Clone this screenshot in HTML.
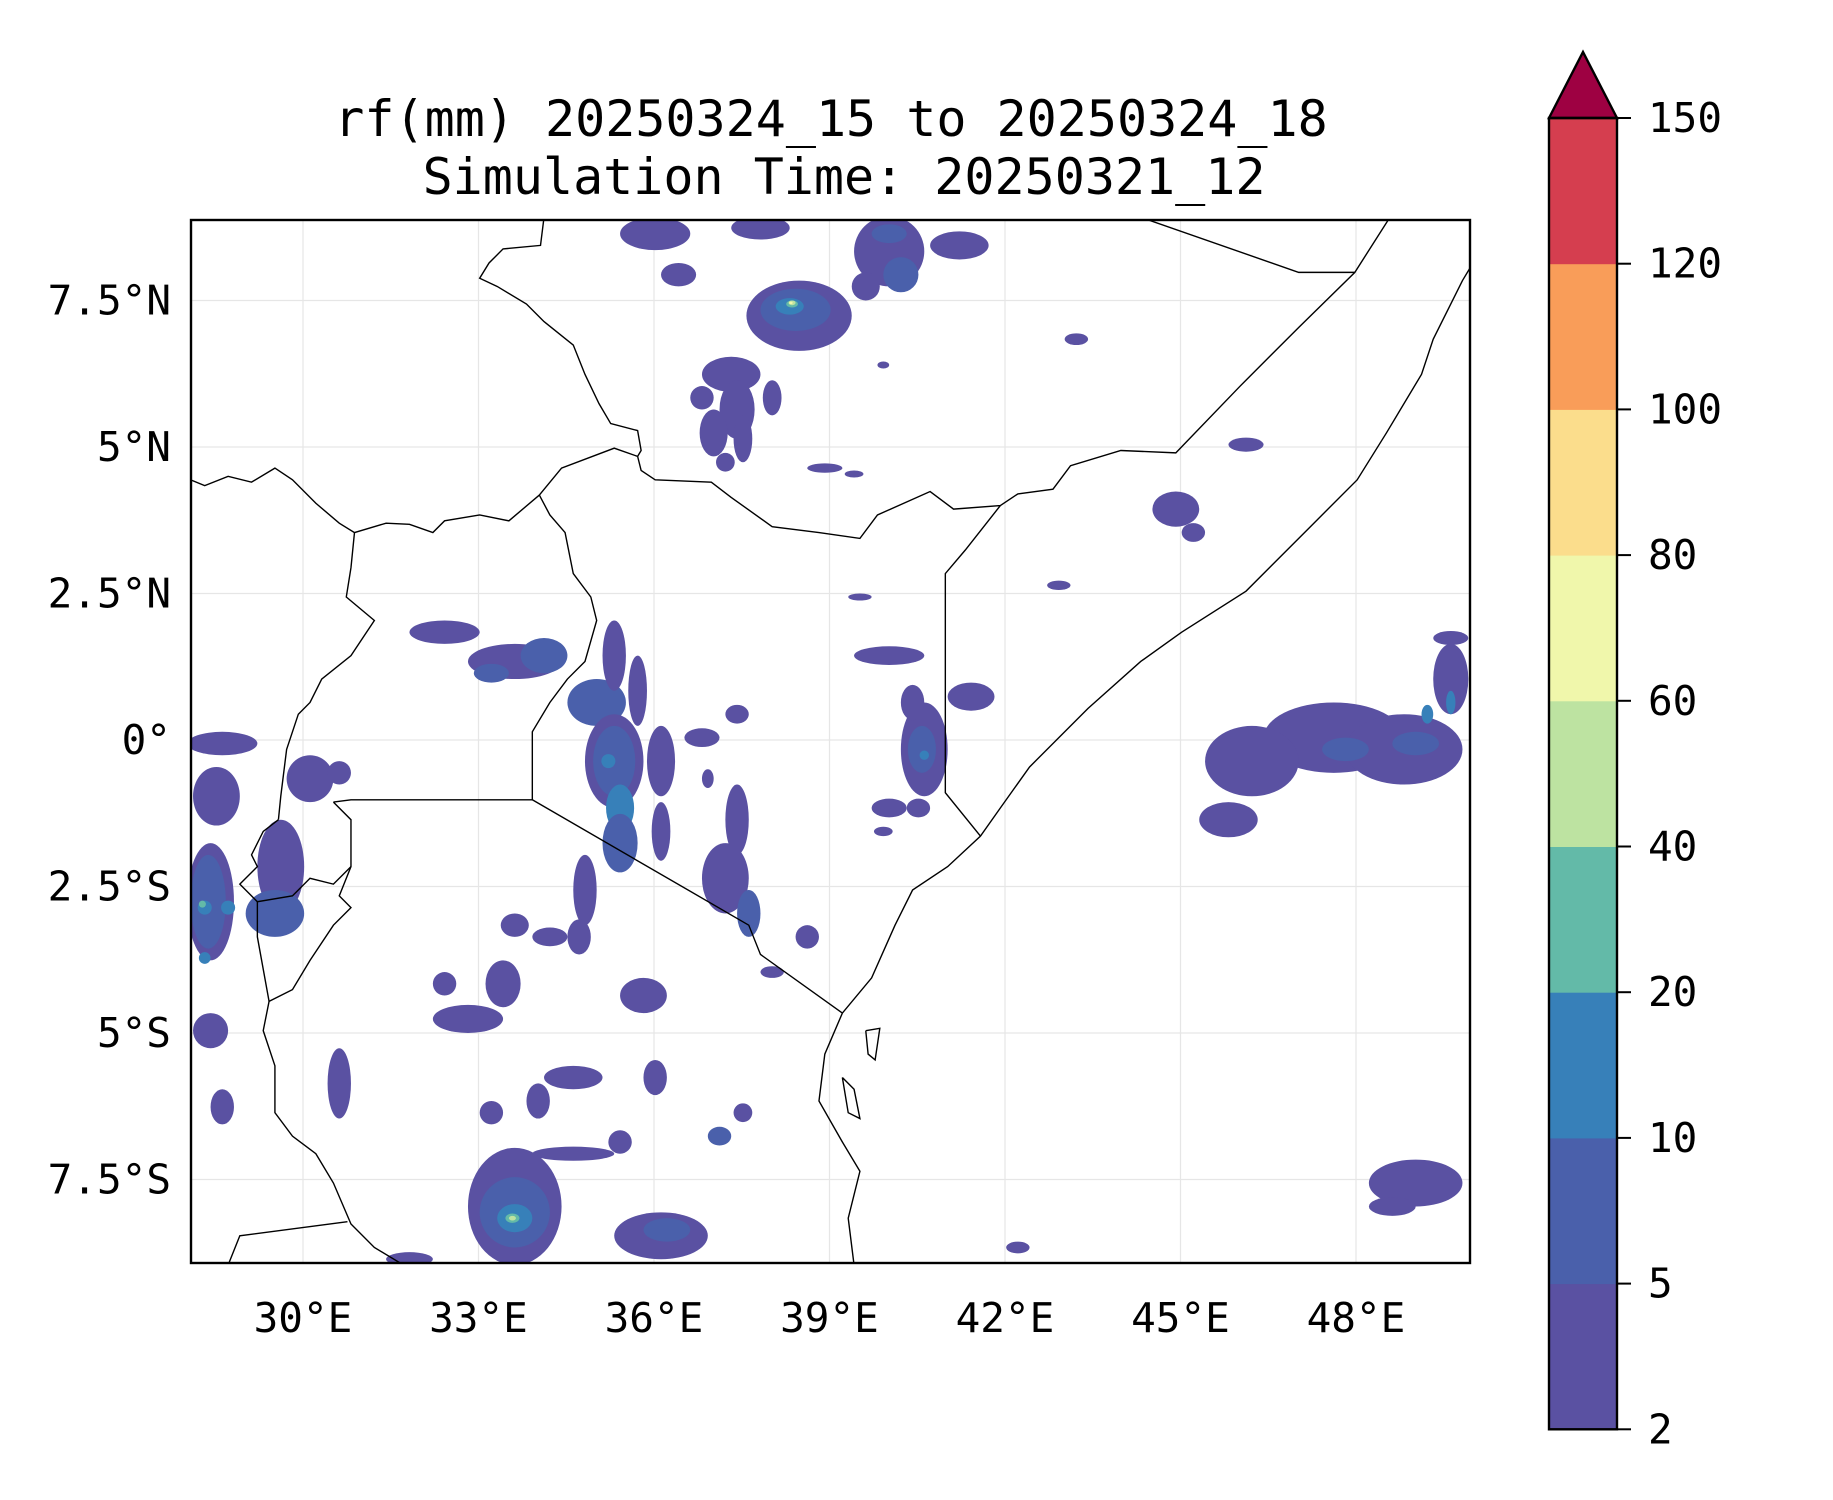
<!DOCTYPE html>
<html><head><meta charset="utf-8">
<style>
html,body{margin:0;padding:0;background:#fff;}
svg{display:block;font-family:"DejaVu Sans Mono","Liberation Mono",monospace;}
</style></head>
<body>
<svg id="chart" width="1833" height="1500" viewBox="0 0 1833 1500" xmlns="http://www.w3.org/2000/svg">
<rect width="1833" height="1500" fill="#fff"/>
<text x="831" y="136" font-size="50" text-anchor="middle">rf(mm) 20250324_15 to 20250324_18</text>
<text x="844" y="194" font-size="50" text-anchor="middle">Simulation Time: 20250321_12</text>
<defs><clipPath id="mapclip"><rect x="191" y="220" width="1279" height="1043"/></clipPath></defs>
<g id="grid"></g>
<g id="rain" clip-path="url(#mapclip)"></g>
<g id="borders" clip-path="url(#mapclip)" fill="none" stroke="#000" stroke-width="1.4"></g>
<rect x="191" y="220" width="1279" height="1043" fill="none" stroke="#000" stroke-width="2.4"/>
<g id="xticks"></g>
<g id="yticks"></g>
<g id="cbar"></g>
</svg>
<script>
const NS="http://www.w3.org/2000/svg";
// ---- data ----
const levels=[2,5,10,20,40,60,80,100,120,150];
const levelColors=["#5a51a2","#4a60ab","#3780b9","#63baa8","#bde3a1","#f0f7ab","#fbdd8c","#f99d59","#d53e4f"];
const extendColor="#9e0142";
const lonTicks=[30,33,36,39,42,45,48];
const lonTickLabels=["30°E","33°E","36°E","39°E","42°E","45°E","48°E"];
const latTicks=[7.5,5,2.5,0,-2.5,-5,-7.5];
const latTickLabels=["7.5°N","5°N","2.5°N","0°","2.5°S","5°S","7.5°S"];
const blobLon=[38.48,38.42,38.32,38.36,38.36,38.34,36.02,37.82,40.02,41.22,36.42,39.62,40.22,40.02,37.32,37.42,37.02,37.52,38.02,36.82,37.22,38.92,39.42,44.92,45.22,46.12,42.92,43.22,39.92,32.42,33.62,33.22,34.12,35.02,35.32,35.32,35.42,35.42,35.32,35.72,36.12,36.12,35.22,34.82,34.72,34.22,37.22,37.62,37.42,38.62,38.02,36.82,37.42,36.92,40.62,40.58,40.62,41.42,40.02,40.42,40.02,40.52,39.92,39.52,47.62,48.82,49.62,49.62,46.22,45.82,49.02,49.22,49.62,47.82,28.62,28.52,28.42,28.38,28.32,28.28,28.32,29.62,29.52,30.12,30.62,28.42,28.62,28.72,30.62,32.82,33.42,32.42,33.62,34.62,34.02,35.82,36.02,35.42,37.12,37.52,33.22,34.62,33.62,33.62,33.62,33.58,33.58,36.12,36.22,31.82,49.02,48.62,42.22];
const blobLat=[7.24,7.34,7.4,7.44,7.46,7.46,8.64,8.74,8.34,8.44,7.94,7.74,7.94,8.64,6.24,5.64,5.24,5.14,5.84,5.84,4.74,4.64,4.54,3.94,3.54,5.04,2.64,6.84,6.4,1.84,1.34,1.14,1.44,0.64,-0.36,-0.36,-1.16,-1.76,1.44,0.84,-0.36,-1.56,-0.36,-2.56,-3.36,-3.36,-2.36,-2.96,-1.36,-3.36,-3.96,0.04,0.44,-0.66,-0.16,-0.16,-0.26,0.74,1.44,0.64,-1.16,-1.16,-1.56,2.44,0.04,-0.16,1.04,1.74,-0.36,-1.36,-0.06,0.44,0.64,-0.16,-0.06,-0.96,-2.76,-2.76,-2.86,-2.8,-3.72,-2.16,-2.96,-0.66,-0.56,-4.96,-6.26,-2.86,-5.86,-4.76,-4.16,-4.16,-3.16,-5.76,-6.16,-4.36,-5.76,-6.86,-6.76,-6.36,-6.36,-7.06,-7.96,-8.06,-8.16,-8.16,-8.16,-8.46,-8.36,-8.86,-7.56,-7.96,-8.66];
const blobW=[.9,.6,.24,.1,.06,.03,.6,.5,.6,.5,.3,.24,.3,.3,.5,.3,.24,.16,.16,.2,.16,.3,.16,.4,.2,.3,.2,.2,.1,.6,.8,.3,.4,.5,.5,.36,.24,.3,.2,.16,.24,.16,.12,.2,.2,.3,.4,.2,.2,.2,.2,.3,.2,.1,.4,.24,.08,.4,.6,.2,.3,.2,.16,.2,1.2,1.0,.3,.3,.8,.5,.4,.1,.08,.4,.6,.4,.4,.3,.12,.06,.1,.4,.5,.4,.2,.3,.2,.12,.2,.6,.3,.2,.24,.5,.2,.4,.2,.2,.2,.16,.2,.7,.8,.6,.3,.12,.06,.8,.4,.4,.8,.4,.2];
const blobH=[.6,.36,.14,.06,.04,.02,.28,.2,.6,.24,.2,.24,.3,.16,.3,.5,.4,.4,.3,.2,.16,.08,.06,.3,.16,.12,.08,.1,.06,.2,.3,.16,.3,.4,.8,.6,.4,.5,.6,.6,.6,.5,.12,.6,.3,.16,.6,.4,.6,.2,.1,.16,.16,.16,.8,.4,.08,.24,.16,.3,.16,.16,.08,.06,.6,.6,.6,.12,.6,.3,.2,.16,.2,.2,.2,.5,1.0,.8,.12,.06,.1,.8,.4,.4,.2,.3,.3,.12,.6,.24,.4,.2,.2,.2,.3,.3,.3,.2,.16,.16,.2,.12,1.0,.6,.24,.08,.04,.4,.2,.12,.4,.16,.1];
const blobVal=[3,7,15,30,50,70,3,3,3,3,3,3,7,7,3,3,3,3,3,3,3,3,3,3,3,3,3,3,3,3,3,7,7,7,3,7,15,7,3,3,3,3,15,3,3,3,3,7,3,3,3,3,3,3,3,7,15,3,3,3,3,3,3,3,3,3,3,3,3,3,7,15,15,7,3,3,3,7,15,30,15,3,7,3,3,3,3,15,3,3,3,3,3,3,3,3,3,3,7,3,3,3,3,7,15,30,50,3,7,3,3,3,3];
// ---- basemap (lon,lat) ----
const borders=[
[[34.04,4.18],[34.42,4.64],[35.32,4.98],[35.72,4.84],[35.78,4.6],[36.02,4.44],[36.98,4.4],[37.32,4.14],[38.02,3.64],[38.82,3.54],[39.52,3.44],[39.82,3.84],[40.72,4.24],[41.12,3.94],[41.92,4.0],[42.22,4.2],[42.82,4.28],[43.12,4.68],[43.98,4.94],[44.92,4.9],[46.02,6.04],[47.02,7.04],[47.98,7.98],[48.58,8.92]],
[[44.32,8.92],[47.02,7.98],[47.98,7.98]],
[[41.92,4.0],[41.32,3.24],[40.98,2.84],[40.98,-0.9],[41.58,-1.64]],
[[49.94,8.04],[49.82,7.84],[49.32,6.84],[49.12,6.24],[48.52,5.24],[48.02,4.44],[47.22,3.64],[46.12,2.54],[45.02,1.84],[44.32,1.34],[43.42,0.54],[42.42,-0.46],[41.92,-1.16],[41.58,-1.64],[41.02,-2.16],[40.42,-2.56],[40.12,-3.16],[39.72,-4.06],[39.22,-4.66],[38.92,-5.36],[38.82,-6.16],[39.22,-6.86],[39.52,-7.36],[39.32,-8.16],[39.42,-8.96]],
[[34.12,8.92],[34.06,8.44],[33.42,8.38],[33.18,8.14],[33.02,7.88],[33.32,7.74],[33.82,7.44],[34.12,7.14],[34.62,6.74],[34.82,6.24],[35.06,5.74],[35.26,5.4],[35.72,5.28],[35.78,4.94],[35.72,4.84]],
[[28.08,4.44],[28.32,4.34],[28.72,4.5],[29.12,4.4],[29.52,4.64],[29.82,4.44],[30.22,4.04],[30.62,3.7],[30.88,3.54],[31.42,3.7],[31.82,3.68],[32.22,3.54],[32.42,3.74],[33.02,3.84],[33.52,3.74],[34.04,4.18]],
[[30.88,3.54],[30.82,2.94],[30.74,2.44],[31.22,2.04],[30.82,1.44],[30.32,1.04],[30.12,0.64],[29.92,0.44],[29.72,-0.16],[29.62,-0.96],[29.58,-1.36]],
[[34.04,4.18],[34.22,3.84],[34.48,3.54],[34.62,2.84],[34.92,2.44],[35.02,2.04],[34.82,1.34],[34.52,1.04],[34.22,0.64],[33.92,0.14],[33.92,-1.02],[30.82,-1.02],[30.52,-1.06]],
[[33.92,-1.02],[37.62,-3.16],[37.82,-3.66],[39.22,-4.66]],
[[30.52,-1.06],[30.82,-1.36],[30.82,-2.16],[30.62,-2.66],[30.82,-2.86],[30.52,-3.16],[30.12,-3.76],[29.82,-4.26],[29.42,-4.46],[29.32,-4.96],[29.52,-5.56],[29.52,-6.36],[29.82,-6.76],[30.22,-7.06],[30.52,-7.56],[30.82,-8.26],[31.22,-8.66],[31.72,-8.96]],
[[29.58,-1.36],[29.32,-1.56],[29.12,-1.96],[29.22,-2.16],[28.92,-2.46],[29.22,-2.76],[29.82,-2.66],[30.12,-2.36],[30.52,-2.46],[30.82,-2.16]],
[[29.22,-2.76],[29.22,-3.36],[29.42,-4.46]],
[[28.72,-8.96],[28.92,-8.46],[30.76,-8.22]],
[[39.62,-4.96],[39.86,-4.92],[39.78,-5.46],[39.66,-5.36],[39.62,-4.96]],
[[39.22,-5.76],[39.42,-5.96],[39.52,-6.46],[39.32,-6.36],[39.22,-5.76]]
];
// ---- scales ----
const PX=58.5, PY=58.6;
const X=lon=>303+(lon-30)*PX;
const Y=lat=>740-lat*PY;
function mk(tag,attrs,parent){const e=document.createElementNS(NS,tag);for(const k in attrs)e.setAttribute(k,attrs[k]);parent.appendChild(e);return e;}
function levelIndex(v){for(let i=levels.length-2;i>=0;i--){if(v>=levels[i])return i;}return -1;}
// grid
const grid=document.getElementById('grid');
lonTicks.forEach(l=>{const e=mk('line',{x1:X(l),x2:X(l),y1:220,y2:1263,stroke:'#e6e6e6','stroke-width':1.2},grid);

});
latTicks.forEach(l=>{const e=mk('line',{x1:191,x2:1470,y1:Y(l),y2:Y(l),stroke:'#e6e6e6','stroke-width':1.2},grid);

});
// rain blobs
const rain=document.getElementById('rain');
blobVal.forEach((v,i)=>{const li=levelIndex(v);if(li<0)return;
const e=mk('ellipse',{cx:X(blobLon[i]),cy:Y(blobLat[i]),rx:blobW[i]*PX,ry:blobH[i]*PY,fill:levelColors[li]},rain);

});
// borders
const bg=document.getElementById('borders');
borders.forEach(b=>{const e=mk('polyline',{points:b.map(p=>X(p[0])+','+Y(p[1])).join(' ')},bg);

});
// ticks
const xt=document.getElementById('xticks');
lonTicks.forEach((l,i)=>{const t=mk('text',{x:X(l),y:1332,'font-size':41,'text-anchor':'middle'},xt);t.textContent=lonTickLabels[i];

});
const yt=document.getElementById('yticks');
latTicks.forEach((l,i)=>{const t=mk('text',{x:171,y:Y(l)+14,'font-size':41,'text-anchor':'end'},yt);t.textContent=latTickLabels[i];

});
// colorbar
const cb=document.getElementById('cbar');
const cbX=1549,cbW=68,cbTop=118,seg=145.7;
const nSeg=levels.length-1, cbBot=cbTop+nSeg*seg;
const CY=i=>cbBot-i*seg;
for(let i=0;i<nSeg;i++){const r=mk('rect',{x:cbX,y:CY(i+1),width:cbW,height:seg+0.5,fill:levelColors[i]},cb);

}
const tri=mk('polygon',{points:`${cbX},${cbTop} ${cbX+cbW/2},52 ${cbX+cbW},${cbTop}`,fill:extendColor,stroke:'#000','stroke-width':2.4},cb);


const fr=mk('rect',{x:cbX,y:cbTop,width:cbW,height:cbBot-cbTop,fill:'none',stroke:'#000','stroke-width':2.4},cb);


levels.forEach((v,i)=>{const ln=mk('line',{x1:cbX+cbW,x2:cbX+cbW+14,y1:CY(i),y2:CY(i),stroke:'#000','stroke-width':2},cb);


const t=mk('text',{x:1648,y:CY(i)+14,'font-size':41},cb);t.textContent=v;

});
</script>
</body></html>
